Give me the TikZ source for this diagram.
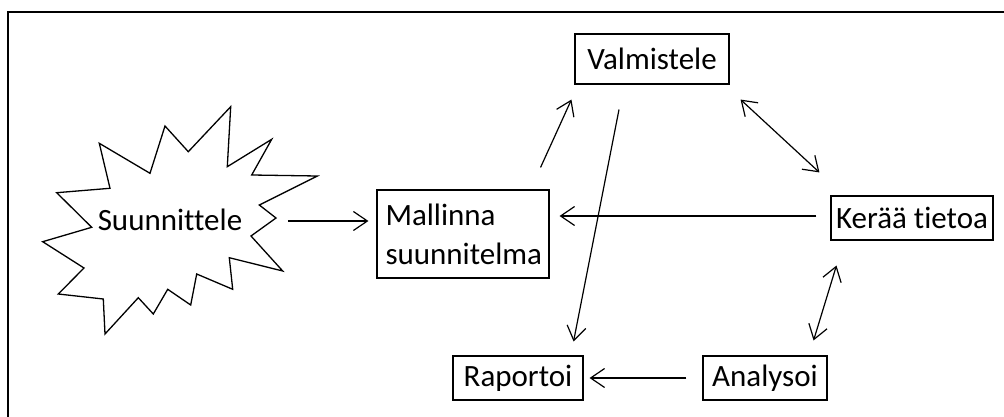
\documentclass[tikz,border=0pt]{standalone}
\usepackage{fontspec}
\setmainfont[Ligatures=NoCommon]{Carlito}
\usetikzlibrary{arrows.meta}
\tikzset{
    box/.style={draw, line width=1.1pt, inner sep=0pt, font=\fontsize{31}{39}\selectfont},
    arr/.style={line width=1.2pt, -{Straight Barb[length=14pt,width=19pt,line width=1.2pt]}},
    dbl/.style={line width=1.2pt, {Straight Barb[length=14pt,width=19pt,line width=1.2pt]}-{Straight Barb[length=14pt,width=19pt,line width=1.2pt]}},
    burst/.style={draw, line width=1.3pt, line join=miter}
}
\begin{document}
\begin{tikzpicture}[x=1pt, y=-1pt]
          \useasboundingbox (0,0) rectangle (1004,417);
          \begin{scope}
            \clip (0,0) rectangle (1004,417);
            \draw [line width=2pt] (8,12.5) rectangle (1030,440);
          \end{scope}
          \begin{scope}
            \draw [burst] (230.7,106.7) -- (227.3,166.7) -- (271.7,139.3) -- (251.7,175)
              -- (317.3,176) -- (259.3,205) -- (276,218) -- (251,236) -- (282.7,271)
              -- (229.3,257.7) -- (232.7,289.3) -- (196.7,274) -- (190.7,305)
              -- (167.7,289.3) -- (153.3,314) -- (138.3,297.7) -- (105,334)
              -- (103.3,299) -- (58.3,294) -- (84,268) -- (42.7,241.7) -- (91.7,227.3)
              -- (56.7,192.7) -- (110,188.3) -- (99.3,143.3) -- (150,173.3)
              -- (165,126) -- (188.3,151.7) -- cycle;
            \node [box, draw=none] (sun) at (170,220) {Suunnittele};
          \end{scope}
          \node [box, minimum width=154pt, minimum height=50pt] (valm) at (652,59) {Valmistele};
          \node [box, minimum width=172pt, minimum height=88pt, text width=155pt, align=left] (mall) at (463,234) {Mallinna\\suunnitelma};
          \node [box, minimum width=162pt, minimum height=44pt] (keraa) at (912,218) {Kerää tietoa};
          \node [box, minimum width=124pt, minimum height=44pt] (anal) at (765,378) {Analysoi};
          \node [box, minimum width=130pt, minimum height=44pt] (rap) at (518,378) {Raportoi};
          \draw [arr] ([xshift=45pt]sun.east |- 0,221) -- ([xshift=-8pt]mall.west |- 0,221);
          \draw [arr] ([xshift=-9pt,yshift=22pt]mall.north east) -- ([xshift=-3pt,yshift=-15pt]valm.south west);
          \draw [arr] ([xshift=-33pt,yshift=-25pt]valm.south) -- ([xshift=-10pt,yshift=14pt]rap.north east);
          \draw [arr] ([xshift=-14pt,yshift=2pt]keraa.west) -- ([xshift=10pt]mall.east |- 0,216);
          \draw [dbl] ([xshift=11pt,yshift=-15pt]valm.south east) -- ([xshift=-11pt,yshift=23pt]keraa.north west);
          \draw [dbl] ([xshift=6pt,yshift=-25pt]keraa.south west) -- ([xshift=-14pt,yshift=15pt]anal.north east);
          \draw [arr] ([xshift=-16pt]anal.west) -- ([xshift=6pt]rap.east);
        \end{tikzpicture}
\end{document}
